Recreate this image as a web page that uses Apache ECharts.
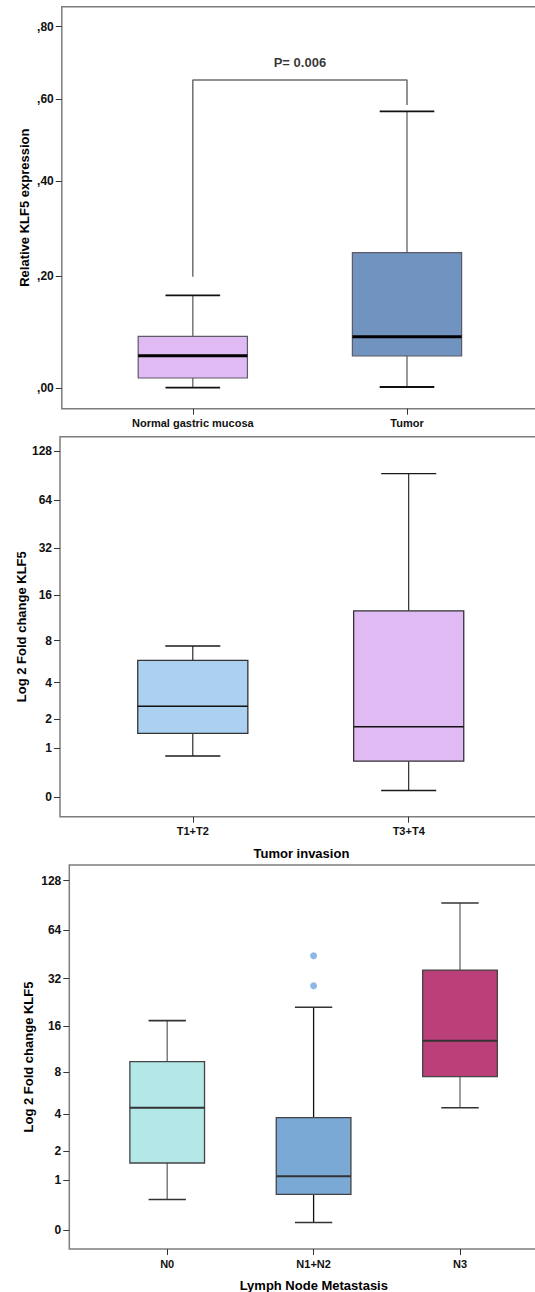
<!DOCTYPE html>
<html><head><meta charset="utf-8">
<script src="https://cdn.jsdelivr.net/npm/echarts@6/dist/echarts.min.js"></script>
<style>html,body{margin:0;padding:0;background:#fff}#chart{width:535px;height:1292px}</style>
</head><body><div id="chart"></div>
<script>
// ---------- Panel 1: Relative KLF5 expression ----------
const p1Categories = ['Normal gastric mucosa', 'Tumor'];
const p1Low    = [0.0005, 0.0016];
const p1Q1     = [0.0164, 0.0534];
const p1Median = [0.0540, 0.0871];
const p1Q3     = [0.0877, 0.2462];
const p1High   = [0.1628, 0.5685];
const p1Ticks      = [0, 0.2, 0.4, 0.6, 0.8];
const p1TickLabels = [',00', ',20', ',40', ',60', ',80'];
const p1BracketCat = [0, 0, 1, 1];
const p1BracketVal = [0.1985, 0.6505, 0.6505, 0.5847];
const p1PText = 'P= 0.006';
const p1PPos  = [0.5, 0.6988];

// ---------- Panel 2: Tumor invasion ----------
const p2Categories = ['T1+T2', 'T3+T4'];
const p2Low    = [0.785, 0.10];
const p2Q1     = [1.455, 0.66];
const p2Median = [2.59, 1.69];
const p2Q3     = [5.84, 12.7];
const p2High   = [7.36, 92.8];

// ---------- Panel 3: Lymph node metastasis ----------
const p3Categories = ['N0', 'N1+N2', 'N3'];
const p3Low    = [0.53, 0.11, 4.48];
const p3Q1     = [1.54, 0.64, 7.44];
const p3Median = [4.48, 1.11, 12.9];
const p3Q3     = [9.4, 3.77, 36.2];
const p3High   = [17.4, 21.2, 93.6];
const p3OutlierCat = [1, 1];
const p3OutlierVal = [44.4, 28.9];

const foldTicks      = [0, 1, 2, 4, 8, 16, 32, 64, 128];
const foldTickLabels = ['0', '1', '2', '4', '8', '16', '32', '64', '128'];

// axis transforms: SPSS-like log(x+1) scales
const t1 = v => Math.log1p(v);
const t2 = v => Math.log2(1 + v);

function boxData(tf, low, q1, med, q3, high) {
  return low.map((_, i) => [i, tf(low[i]), tf(q1[i]), tf(med[i]), tf(q3[i]), tf(high[i])]);
}

function makeRender(st, fills) {
  return function (params, api) {
    const x = api.value(0);
    const lo = api.coord([x, api.value(1)]);
    const q1 = api.coord([x, api.value(2)]);
    const md = api.coord([x, api.value(3)]);
    const q3 = api.coord([x, api.value(4)]);
    const hi = api.coord([x, api.value(5)]);
    const bw = api.size([1, 0])[0] * 0.51;
    const cx = lo[0], half = bw / 2, cap = bw / 4;
    const i = params.dataIndex;
    const wc = Array.isArray(st.whisker) ? st.whisker[i] : st.whisker;
    return {
      type: 'group',
      children: [
        { type: 'line', shape: { x1: cx, y1: hi[1], x2: cx, y2: q3[1] }, style: { stroke: wc, lineWidth: st.whiskerW } },
        { type: 'line', shape: { x1: cx, y1: q1[1], x2: cx, y2: lo[1] }, style: { stroke: wc, lineWidth: st.whiskerW } },
        { type: 'line', shape: { x1: cx - cap, y1: hi[1], x2: cx + cap, y2: hi[1] }, style: { stroke: st.cap, lineWidth: st.capW } },
        { type: 'line', shape: { x1: cx - cap, y1: lo[1], x2: cx + cap, y2: lo[1] }, style: { stroke: st.cap, lineWidth: st.capW } },
        { type: 'rect', shape: { x: cx - half, y: q3[1], width: bw, height: q1[1] - q3[1] }, style: { fill: fills[i], stroke: st.box, lineWidth: st.boxW } },
        { type: 'line', shape: { x1: cx - half, y1: md[1], x2: cx + half, y2: md[1] }, style: { stroke: st.median, lineWidth: st.medianW } }
      ]
    };
  };
}

const FONT = 'Liberation Sans, Arial, sans-serif';
const tickFont = { fontFamily: FONT, fontWeight: 'bold', fontSize: 11, color: '#111' };

function yAxisCfg(gridIndex, tf, ticks, labels, min, max, name, gap) {
  return {
    type: 'value', gridIndex, min, max,
    name, nameLocation: 'middle', nameGap: gap, nameMoveOverlap: false,
    nameTextStyle: { fontFamily: FONT, fontWeight: 'bold', fontSize: 13, color: '#000' },
    axisLine: { show: false, onZero: false },
    splitLine: { show: false },
    axisTick: { show: true, length: 6, customValues: ticks.map(tf), lineStyle: { color: '#333', width: 1 } },
    axisLabel: {
      ...tickFont, fontSize: 12, margin: 8, customValues: ticks.map(tf),
      formatter: v => { const k = ticks.findIndex(t => Math.abs(tf(t) - v) < 1e-6); return k >= 0 ? labels[k] : ''; }
    }
  };
}
function xAxisCfg(gridIndex, cats, min, max) {
  const idx = cats.map((_, i) => i);
  return {
    type: 'value', gridIndex, min, max,
    axisLine: { show: false, onZero: false },
    splitLine: { show: false },
    axisTick: { show: true, length: 6, customValues: idx, lineStyle: { color: '#333', width: 1 } },
    axisLabel: { ...tickFont, margin: 9, customValues: idx, formatter: v => cats[Math.round(v)] || '' }
  };
}

const gridStyle = { show: true, borderColor: '#7d7d7d', borderWidth: 1.5, backgroundColor: 'transparent', outerBoundsMode: 'none', containLabel: false };

const option = {
  animation: false,
  backgroundColor: '#fff',
  grid: [
    { ...gridStyle, left: 61.8, top: 6.7, width: 700, height: 402 },
    { ...gridStyle, left: 60, top: 436.7, width: 700, height: 380 },
    { ...gridStyle, left: 69.3, top: 865, width: 700, height: 384 }
  ],
  xAxis: [
    xAxisCfg(0, p1Categories, -0.6116, 2.6564),
    xAxisCfg(1, p2Categories, -0.6151, 2.6272),
    xAxisCfg(2, p3Categories, -0.6687, 4.1127)
  ],
  yAxis: [
    yAxisCfg(0, t1, p1Ticks, p1TickLabels, -0.03368, 0.62033, 'Relative KLF5 expression', 30.5),
    yAxisCfg(1, t2, foldTicks, foldTickLabels, -0.3928, 7.3007, 'Log 2 Fold change KLF5', 32),
    yAxisCfg(2, t2, foldTicks, foldTickLabels, -0.3814, 7.3264, 'Log 2 Fold change KLF5', 34)
  ],
  graphic: [
    { type: 'text', x: 301.4, y: 853.3, style: { text: 'Tumor invasion', align: 'center', verticalAlign: 'middle', font: 'bold 13px Liberation Sans, Arial, sans-serif', fill: '#000' } },
    { type: 'text', x: 313.8, y: 1285, style: { text: 'Lymph Node Metastasis', align: 'center', verticalAlign: 'middle', font: 'bold 13px Liberation Sans, Arial, sans-serif', fill: '#000' } }
  ],
  series: [
    {
      type: 'line', xAxisIndex: 0, yAxisIndex: 0, silent: true, symbol: 'none',
      data: p1BracketCat.map((c, i) => [c, t1(p1BracketVal[i])]),
      lineStyle: { color: '#6e6e6e', width: 1.5 }
    },
    {
      type: 'scatter', xAxisIndex: 0, yAxisIndex: 0, silent: true, symbolSize: 1,
      itemStyle: { color: 'rgba(0,0,0,0)' },
      data: [[p1PPos[0], t1(p1PPos[1])]],
      label: { show: true, position: 'inside', formatter: p1PText, fontFamily: FONT, fontWeight: 'bold', fontSize: 13, color: '#000' }
    },
    {
      type: 'custom', xAxisIndex: 0, yAxisIndex: 0, silent: true,
      encode: { x: 0, y: [1, 2, 3, 4, 5] },
      data: boxData(t1, p1Low, p1Q1, p1Median, p1Q3, p1High),
      renderItem: makeRender({ whisker: '#6e6e6e', whiskerW: 1.4, cap: '#111', capW: 1.8, box: '#5e5868', boxW: 1.2, median: '#000', medianW: 3 }, ['#dfbaf3', '#7193bf'])
    },
    {
      type: 'custom', xAxisIndex: 1, yAxisIndex: 1, silent: true,
      encode: { x: 0, y: [1, 2, 3, 4, 5] },
      data: boxData(t2, p2Low, p2Q1, p2Median, p2Q3, p2High),
      renderItem: makeRender({ whisker: '#1a1a1a', whiskerW: 1.1, cap: '#1a1a1a', capW: 1.3, box: '#333', boxW: 1.3, median: '#111', medianW: 1.6 }, ['#acd0ef', '#dfbaf3'])
    },
    {
      type: 'custom', xAxisIndex: 2, yAxisIndex: 2, silent: true,
      encode: { x: 0, y: [1, 2, 3, 4, 5] },
      data: boxData(t2, p3Low, p3Q1, p3Median, p3Q3, p3High),
      renderItem: makeRender({ whisker: ['#6a6a6a', '#111', '#6a6a6a'], whiskerW: 1.3, cap: '#333', capW: 1.6, box: '#444', boxW: 1.3, median: '#333', medianW: 2 }, ['#b4e7e7', '#7ba9d6', '#bb3f79'])
    },
    {
      type: 'scatter', xAxisIndex: 2, yAxisIndex: 2, silent: true, symbolSize: 7,
      itemStyle: { color: '#72a6dd' },
      data: p3OutlierCat.map((c, i) => [c, t2(p3OutlierVal[i])])
    }
  ]
};

const chart = echarts.init(document.getElementById('chart'), null, { renderer: 'svg', width: 535, height: 1292 });
chart.setOption(option);
</script>
</body></html>
